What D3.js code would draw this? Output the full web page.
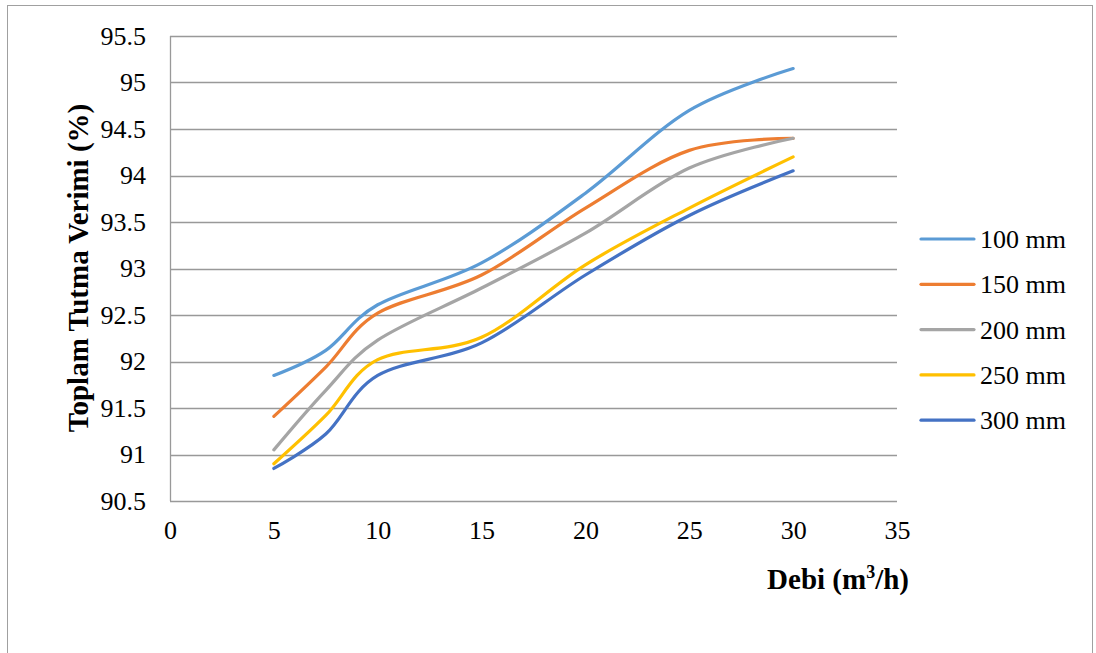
<!DOCTYPE html>
<html><head><meta charset="utf-8">
<script src="https://cdn.jsdelivr.net/npm/d3@7/dist/d3.min.js"></script>
<style>body{margin:0;background:#fff;} svg{display:block;} svg text{font-family:"Liberation Serif","Times New Roman",serif !important;}</style>
</head><body>
<svg id="chart" width="1096" height="653"></svg>
<script>
const xValues = [5, 7.5, 10, 15, 20, 25, 30];
const seriesNames = ["100 mm", "150 mm", "200 mm", "250 mm", "300 mm"];
const s100 = [91.85, 92.12, 92.61, 93.06, 93.81, 94.70, 95.15];
const s150 = [91.41, 91.94, 92.52, 92.93, 93.65, 94.27, 94.40];
const s200 = [91.05, 91.69, 92.23, 92.79, 93.38, 94.08, 94.40];
const s250 = [90.90, 91.42, 92.02, 92.26, 93.04, 93.65, 94.20];
const s300 = [90.85, 91.22, 91.85, 92.20, 92.93, 93.57, 94.05];
const xTicks = [0, 5, 10, 15, 20, 25, 30, 35];
const yTicks = [90.5, 91, 91.5, 92, 92.5, 93, 93.5, 94, 94.5, 95, 95.5];
const colors = ["#5B9BD5", "#ED7D31", "#A5A5A5", "#FFC000", "#4472C4"];
const seriesValues = [s100, s150, s200, s250, s300];

const svg = d3.select("#chart");
const font = "'Liberation Serif', 'Times New Roman', serif";

// outer frame
svg.append("rect").attr("x", 7.5).attr("y", 5.5).attr("width", 1085).attr("height", 700)
  .attr("fill", "none").attr("stroke", "#a0a0a0").attr("stroke-width", 1);

const x = d3.scaleLinear().domain([0, 35]).range([170, 897]);
const y = d3.scaleLinear().domain([90.5, 95.5]).range([501, 36]);

// gridlines
svg.append("g").selectAll("line").data(yTicks).join("line")
  .attr("x1", x(0)).attr("x2", x(35))
  .attr("y1", d => Math.round(y(d)) + 0.5).attr("y2", d => Math.round(y(d)) + 0.5)
  .attr("stroke", "#999").attr("stroke-width", 1.3);
svg.append("line").attr("x1", x(0) + 0.5).attr("x2", x(0) + 0.5).attr("y1", y(95.5)).attr("y2", y(90.5))
  .attr("stroke", "#999").attr("stroke-width", 1.3);

// y axis labels
const yAxis = d3.axisLeft(y).tickValues(yTicks).tickSize(0).tickPadding(24).tickFormat(d => d3.format("")(d));
const gy = svg.append("g").attr("transform", `translate(${x(0)},0)`).call(yAxis);
gy.attr("font-family", null).attr("font-size", null);
gy.select(".domain").remove();
gy.selectAll("text").style("font-family", font).style("font-size", "26px").attr("fill", "#000");

// x axis labels
const xAxis = d3.axisBottom(x).tickValues(xTicks).tickSize(0).tickPadding(20).tickFormat(d3.format("d"));
const gx = svg.append("g").attr("transform", `translate(0,${y(90.5)})`).call(xAxis);
gx.attr("font-family", null).attr("font-size", null);
gx.select(".domain").remove();
gx.selectAll("text").style("font-family", font).style("font-size", "26px").attr("fill", "#000");

// lines
const line = d3.line().x(d => x(d[0])).y(d => y(d[1])).curve(d3.curveCardinal.tension(0));
seriesValues.forEach((vals, i) => {
  svg.append("path").datum(xValues.map((xv, j) => [xv, vals[j]]))
    .attr("d", line).attr("fill", "none").attr("stroke", colors[i])
    .attr("stroke-width", 3.2).attr("stroke-linecap", "round").attr("stroke-linejoin", "round");
});

// axis titles
svg.append("text").attr("transform", `translate(88,268) rotate(-90)`)
  .attr("text-anchor", "middle").style("font-family", font).attr("font-weight", "bold")
  .style("font-size", "29px").text("Toplam Tutma Verimi (%)");
const xt = svg.append("text").attr("x", 909).attr("y", 589).attr("text-anchor", "end")
  .style("font-family", font).attr("font-weight", "bold").style("font-size", "29px");
xt.append("tspan").text("Debi (m");
xt.append("tspan").style("font-size", "18px").attr("dy", -11).text("3");
xt.append("tspan").attr("dy", 11).text("/h)");

// legend
const leg = svg.append("g");
seriesNames.forEach((name, i) => {
  const ly = 239 + i * 45.3;
  leg.append("line").attr("x1", 921).attr("x2", 974).attr("y1", ly).attr("y2", ly)
    .attr("stroke", colors[i]).attr("stroke-width", 3.2).attr("stroke-linecap", "round");
  leg.append("text").attr("x", 980).attr("y", ly).attr("dy", "0.35em")
    .style("font-family", font).style("font-size", "26px").text(name);
});
</script>
</body></html>
